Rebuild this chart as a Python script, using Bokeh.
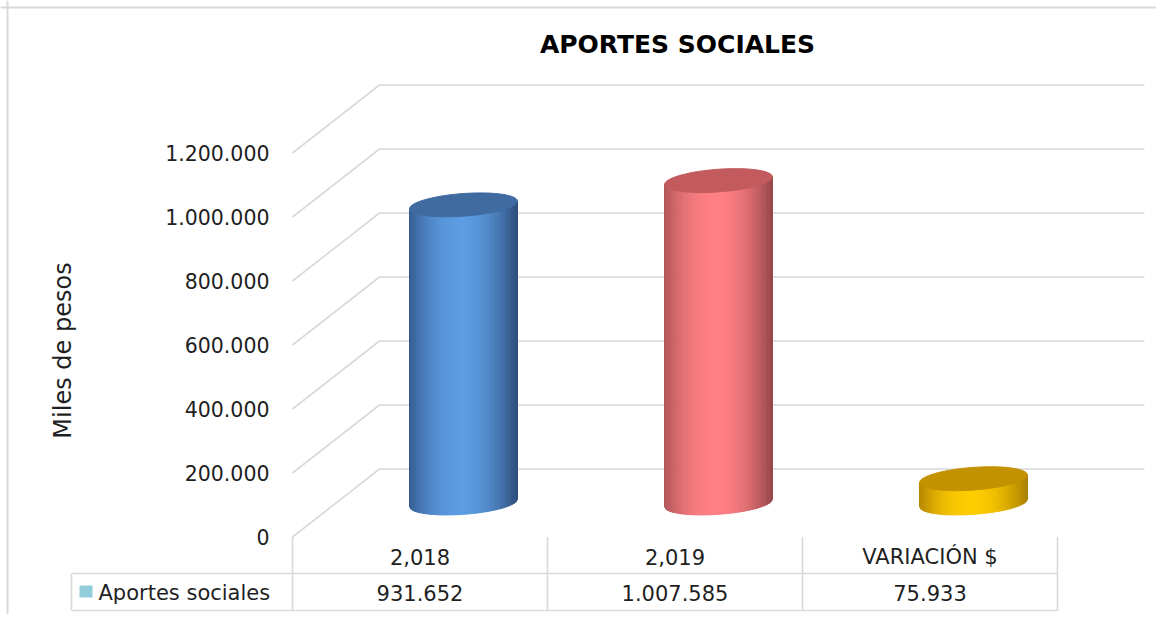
import numpy as np
from bokeh.plotting import figure
from bokeh.models import Span, Range1d
from bokeh.core.properties import value
from bokeh.embed import file_html
from bokeh.resources import INLINE

# ---------------- data ----------------
categories = ["2,018", "2,019", "VARIACIÓN $"]
values = [931652, 1007585, 75933]
series_name = "Aportes sociales"
tick_values = [0, 200000, 400000, 600000, 800000, 1000000, 1200000]
title_text = "APORTES SOCIALES"
y_title = "Miles de pesos"

# colours per bar: (left edge, centre, right edge, top face)
bar_shades = [
    ((52, 90, 145), (92, 156, 226), (46, 78, 122), "#3F6BA1"),
    ((176, 86, 90), (255, 128, 132), (150, 70, 74), "#C35B5E"),
    ((178, 134, 0), (255, 204, 0), (170, 128, 0), "#C39200"),
]
legend_color = "#92CDDC"
grid_color = "#D9D9D9"
text_color = "#1F1F1F"
FONT = value("DejaVu Sans")


def fmt(v):
    return f"{v:,}".replace(",", ".")


# ---------------- geometry helpers ----------------
W, H = 1156, 614
PXU = 255.0               # pixels per category unit
PXV = 64.0 / 200000.0     # pixels per value unit
X0 = 292.0                # canvas px of category edge 0
Y0 = 536.5                # canvas px of value 0 (front plane)


def ux(px):
    return px / PXU


def vy(px):
    return px / PXV


def cx(px):
    return (px - X0) / PXU


def cy(py):
    return (Y0 - py) / PXV


DX = ux(87)   # depth offset
DY = vy(68)
n = len(categories)

p = figure(width=W, height=H, output_backend="svg", toolbar_location=None,
           x_range=Range1d(cx(0), cx(W)), y_range=Range1d(cy(H), cy(0)),
           x_axis_type=None, y_axis_type=None, min_border=0,
           background_fill_color="white", border_fill_color="white")
p.grid.visible = False
p.outline_line_color = None

# chart border (top & left)
p.add_layout(Span(location=cx(7), dimension="height", line_color=grid_color, line_width=2))
p.add_layout(Span(location=cy(7), dimension="width", line_color=grid_color, line_width=2))

# 3D gridlines: diagonal on side wall + horizontal on back wall
p.multi_line(xs=[[0, DX, n + DX] for t in tick_values],
             ys=[[t, t + DY, t + DY] for t in tick_values],
             line_color=grid_color, line_width=1.6)

# y tick labels
p.text(x=[cx(269)] * len(tick_values), y=tick_values, text=[fmt(t) for t in tick_values],
       text_font=FONT, text_font_size="20.5px", text_align="right", text_baseline="middle",
       text_color=text_color)

# axis title
p.text(x=[cx(62)], y=[cy(350)], text=[y_title], angle=np.pi / 2,
       text_font=FONT, text_font_size="24px", text_align="center", text_baseline="middle",
       text_color=text_color)

# title
p.text(x=[cx(677)], y=[cy(44)], text=[title_text],
       text_font=FONT, text_font_size="25px", text_font_style="bold",
       text_align="center", text_baseline="middle", text_color="#000000")

# ---------------- cylinders ----------------
a, b, th = 54.0, 11.3, np.radians(4.2)
c, s = np.cos(th), np.sin(th)


def lower(xpx):
    A = s * s / a ** 2 + c * c / b ** 2
    B = 2 * xpx * c * s * (1 / a ** 2 - 1 / b ** 2)
    C = xpx ** 2 * (c * c / a ** 2 + s * s / b ** 2) - 1
    disc = np.maximum(B * B - 4 * A * C, 0)
    return (-B - np.sqrt(disc)) / (2 * A)


def blend(c1, c2, w):
    r = [int(round(c1[k] * (1 - w) + c2[k] * w)) for k in range(3)]
    return "#%02x%02x%02x" % tuple(r)


N = 64
edges = np.linspace(-a, a, N + 1)
low = lower(edges)
sxs, sys_, scol = [], [], []
txs, tys, tcol = [], [], []
tt = np.linspace(0, 2 * np.pi, 90)
ex = a * np.cos(tt) * c - b * np.sin(tt) * s
ey = a * np.cos(tt) * s + b * np.sin(tt) * c
for i, v in enumerate(values):
    uc = i + 0.5 + DX / 2
    vb = DY / 2
    vt = vb + v
    left, mid, right, top = bar_shades[i]
    for k in range(N):
        x0, x1 = edges[k], edges[k + 1]
        xm = (x0 + x1) / 2 / a
        if xm < 0:
            col = blend(mid, left, min(1, abs(xm) ** 2.2))
        else:
            col = blend(mid, right, min(1, abs(xm) ** 1.8))
        sxs.append([uc + ux(x0), uc + ux(x1), uc + ux(x1), uc + ux(x0)])
        sys_.append([vb + vy(low[k]), vb + vy(low[k + 1]), vt + vy(low[k + 1]), vt + vy(low[k])])
        scol.append(col)
    txs.append(list(uc + ux(ex)))
    tys.append(list(vt + vy(ey)))
    tcol.append(top)

p.patches(xs=sxs, ys=sys_, fill_color=scol, line_color=scol, line_width=1)
p.patches(xs=txs, ys=tys, fill_color=tcol, line_color=tcol, line_width=1)

# ---------------- data table ----------------
y_mid = cy(573)
y_bot = cy(610)
x_leg = cx(71)
p.segment(x0=[x_leg, x_leg], y0=[y_mid, y_bot], x1=[n, n], y1=[y_mid, y_bot],
          line_color=grid_color, line_width=1.6)
p.segment(x0=list(range(n + 1)), y0=[0] * (n + 1), x1=list(range(n + 1)), y1=[y_bot] * (n + 1),
          line_color=grid_color, line_width=1.6)
p.segment(x0=[x_leg], y0=[y_mid], x1=[x_leg], y1=[y_bot], line_color=grid_color, line_width=1.6)

centers = [i + 0.5 for i in range(n)]
p.text(x=centers, y=[cy(556)] * n, text=categories, text_font=FONT, text_font_size="21px",
       text_align="center", text_baseline="middle", text_color=text_color)
p.text(x=centers, y=[cy(592)] * n, text=[fmt(v) for v in values], text_font=FONT,
       text_font_size="21px", text_align="center", text_baseline="middle", text_color=text_color)

p.quad(left=[cx(79)], right=[cx(92)], top=[cy(585)], bottom=[cy(597)],
       fill_color=legend_color, line_color=None)
p.text(x=[cx(98)], y=[cy(592)], text=[series_name], text_font=FONT, text_font_size="21px",
       text_align="left", text_baseline="middle", text_color=text_color)

open("out.html", "w").write(file_html(p, INLINE))
